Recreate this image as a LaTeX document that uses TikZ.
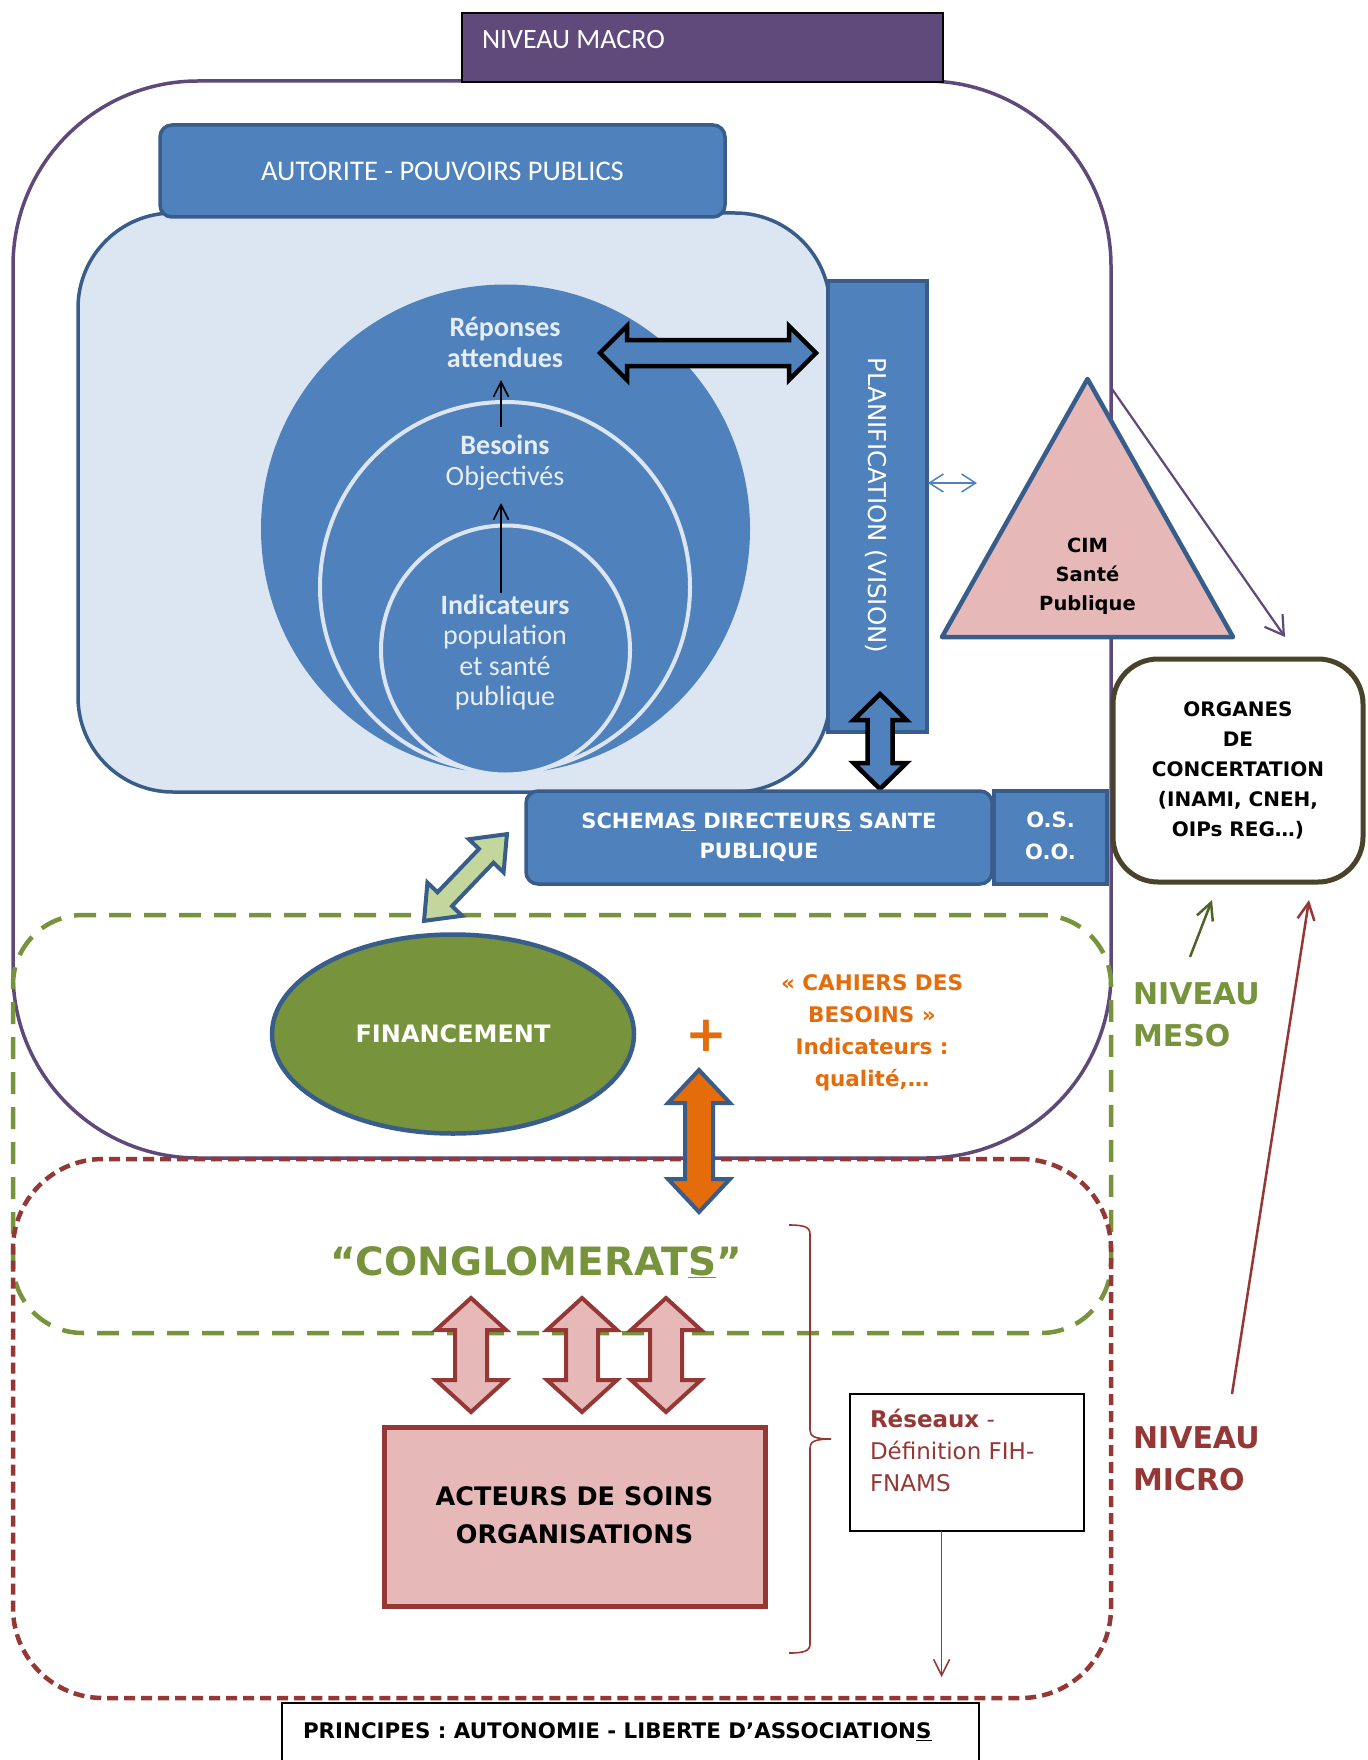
\documentclass[tikz,border=0pt]{standalone}
\usepackage{fontspec}
\setmainfont{DejaVu Sans}
\newfontfamily\calfont{Carlito}
\usetikzlibrary{arrows.meta,shapes.geometric}
\definecolor{mblue}{HTML}{4F81BD}
\definecolor{dblue}{HTML}{385D8A}
\definecolor{lblue}{HTML}{DCE6F2}
\definecolor{ltext}{HTML}{E6EDF6}
\definecolor{mpurple}{HTML}{604A7B}
\definecolor{bpurple}{HTML}{5F497A}
\definecolor{mgreen}{HTML}{77933C}
\definecolor{dgreen}{HTML}{4F6228}
\definecolor{lgreen}{HTML}{C3D69B}
\definecolor{morange}{HTML}{E46C0A}
\definecolor{mpink}{HTML}{E6B9B8}
\definecolor{dred}{HTML}{953735}
\definecolor{oliveb}{HTML}{494429}
\newcommand\fsz[2]{\fontsize{#1pt}{#2pt}\selectfont}
% block double arrow: center, angle, half length, half head width, half shaft width, head length, style
\newcommand\blockdbl[7]{%
  \begin{scope}[shift={(#1)},rotate=#2]
    \draw[#7] (-#3,0) -- ({-#3+#6},#4) -- ({-#3+#6},#5) -- ({#3-#6},#5) -- ({#3-#6},#4) -- (#3,0)
      -- ({#3-#6},-#4) -- ({#3-#6},-#5) -- ({-#3+#6},-#5) -- ({-#3+#6},-#4) -- cycle;
  \end{scope}}
\begin{document}
\begin{tikzpicture}[x=1pt,y=-1pt,
  plain/.style={inner sep=0pt, outer sep=0pt},
  bluebox/.style={plain, fill=mblue, draw=dblue, line width=3.5pt},
  ctext/.style={plain, text=ltext, font=\calfont\fsz{28}{30.5}, align=center},
  barb/.style={-{Straight Barb[length=#1pt,width=#1pt]}},
  barb/.default=16]
\path[use as bounding box, fill=white] (0,0) rectangle (1367,1760);

% ---------- containers ----------
\node[plain, draw=bpurple, line width=3.5pt, fill=white, rounded corners=185pt,
      minimum width=1098pt, minimum height=1077pt] (macro) at (562,619.5) {};
\node[plain, draw=mgreen, line width=4.5pt, dash pattern=on 22pt off 13pt, rounded corners=70pt,
      minimum width=1098pt, minimum height=418pt] (mesobox) at (562,1124) {};
\node[plain, draw=dred, line width=4.5pt, dash pattern=on 11pt off 6pt, rounded corners=90pt,
      minimum width=1098pt, minimum height=539pt] (microbox) at (562,1428.5) {};

\node[plain, fill=mpurple, draw=black, line width=2pt, minimum width=481pt, minimum height=69pt] (macrotag) at (702.5,47.5) {};
\node[plain, anchor=west, text=white, font=\calfont\fsz{28}{32}] (macrotxt) at (482,40) {NIVEAU MACRO};

% ---------- vision block ----------
\node[plain, fill=lblue, draw=dblue, line width=3.5pt, rounded corners=95pt,
      minimum width=752pt, minimum height=579pt] (vision) at (454,502.5) {};
\node[bluebox, rounded corners=12pt, minimum width=565pt, minimum height=92pt,
      text=white, font=\calfont\fsz{28.5}{32}] (autorite) at (442.5,171) {AUTORITE - POUVOIRS PUBLICS};

\node[plain, circle, fill=mblue, minimum size=489pt] (c1) at (505.5,529) {};
\node[plain, circle, fill=mblue, draw=lblue, line width=4pt, minimum size=370pt] (c2) at (505,587) {};
\node[plain, circle, fill=mblue, draw=lblue, line width=4pt, minimum size=249pt] (c3) at (505.5,650) {};

\node[ctext] (rep) at (505,346) {\strut\textbf{Réponses}\\\textbf{attendues}\strut};
\node[ctext] (bes) at (505,464) {\strut\textbf{Besoins}\\Objectivés\strut};
\node[ctext] (ind) at (505,654) {\strut\textbf{Indicateurs}\\population\\et santé\\publique\strut};

\coordinate (a1s) at (501,427); \coordinate (a1e) at (501,380);
\coordinate (a2s) at (501,593); \coordinate (a2e) at (501,503);
\draw[black, line width=1.6pt, barb=15] (a1s) -- (a1e);
\draw[black, line width=1.6pt, barb=15] (a2s) -- (a2e);

\node[bluebox, minimum width=99pt, minimum height=451pt] (planif) at (877.5,506.5) {};
\node[plain, rotate=-90, text=white, font=\fsz{24.5}{28}] (planiftxt) at (876,505.5) {PLANIFICATION (VISION)};

\coordinate (hA) at (708,353);
\blockdbl{hA}{0}{108}{27}{13}{27}{draw=black, fill=mblue, line width=4.5pt, line join=miter}

\coordinate (sbl) at (928,483); \coordinate (sbr) at (977,483);
\draw[mblue, line width=1.5pt, {Straight Barb[length=14pt,width=18pt]}-{Straight Barb[length=14pt,width=18pt]}] (sbl) -- (sbr);

% ---------- CIM ----------
\coordinate (tA) at (1087.5,379); \coordinate (tB) at (942,637); \coordinate (tC) at (1233,637);
\draw[fill=mpink, draw=dblue, line width=4.5pt, line join=round] (tA) -- (tB) -- (tC) -- cycle;
\node[plain, font=\bfseries\fsz{19.5}{29}, align=center] (cim) at (1087.5,576) {\strut CIM\\Santé\\Publique\strut};

\coordinate (pA) at (1112,389); \coordinate (pB) at (1285,637);
\draw[bpurple, line width=2.2pt, -{Straight Barb[length=18pt,width=22pt]}] (pA) -- (pB);

\node[plain, draw=oliveb, line width=5pt, fill=white, rounded corners=45pt, minimum width=250pt, minimum height=223pt,
      align=center, font=\bfseries\fsz{20}{30}] (organes) at (1238,770.5)
      {\strut ORGANES\\DE\\CONCERTATION\\(INAMI, CNEH,\\OIPs REG…)\strut};

\coordinate (vA) at (880,741.5);
\blockdbl{vA}{90}{47.5}{26.5}{12.5}{26}{draw=black, fill=mblue, line width=4.5pt, line join=miter}

\node[bluebox, rounded corners=12pt, minimum width=466pt, minimum height=93pt, text=white, align=center,
      font=\bfseries\fsz{21}{30}] (schemas) at (759,837.5)
      {\strut SCHEMA\underline{S} DIRECTEUR\underline{S} SANTE\\PUBLIQUE\strut};
\node[bluebox, minimum width=113pt, minimum height=93pt, text=white, align=center,
      font=\bfseries\fsz{21}{32}] (os) at (1050.5,837.5) {\strut O.S.\\O.O.\strut};

% ---------- meso ----------
\coordinate (gA) at (465.5,877.5);
\blockdbl{gA}{46.3}{60}{24}{10}{30}{draw=dblue, fill=lgreen, line width=4pt, line join=miter}

\node[plain, ellipse, fill=mgreen, draw=dblue, line width=4.5pt, minimum width=362pt, minimum height=199pt,
      text=white, font=\bfseries\fsz{24}{28}] (fin) at (453,1034) {FINANCEMENT};
\node[plain, text=morange, font=\bfseries\fsz{50}{50}] (plus) at (706,1036) {+};
\node[plain, text=morange, align=center, font=\bfseries\fsz{21.5}{32}] (cahiers) at (872,1032)
      {\strut«~CAHIERS DES\\BESOINS~»\\Indicateurs :\\qualité,…\strut};

\coordinate (oA) at (699,1141);
\blockdbl{oA}{90}{71}{31}{14}{33}{draw=dblue, fill=morange, line width=4pt, line join=miter}

\node[plain, anchor=west, text=mgreen, align=left, font=\bfseries\fsz{30}{42}] (meso) at (1133,1017) {\strut NIVEAU\\MESO\strut};
\coordinate (gs1) at (1190,957); \coordinate (gs2) at (1212,900);
\draw[dgreen, line width=2.5pt, barb=17] (gs1) -- (gs2);
\coordinate (rl1) at (1232,1394); \coordinate (rl2) at (1309,900);
\draw[dred, line width=2.5pt, barb=17] (rl1) -- (rl2);

% ---------- micro ----------
\node[plain, anchor=base, text=mgreen, font=\bfseries\fsz{39}{44}] (congl) at (536,1275) {“CONGLOMERAT\underline{S}”};

\coordinate (pk1) at (471,1355); \coordinate (pk2) at (582,1355); \coordinate (pk3) at (666,1355);
\blockdbl{pk1}{90}{57}{35}{16}{32}{draw=dred, fill=mpink, line width=4pt, line join=miter}
\blockdbl{pk2}{90}{57}{35}{16}{32}{draw=dred, fill=mpink, line width=4pt, line join=miter}
\blockdbl{pk3}{90}{57}{35}{16}{32}{draw=dred, fill=mpink, line width=4pt, line join=miter}

\node[plain, fill=mpink, draw=dred, line width=5pt, minimum width=381pt, minimum height=179pt, align=center,
      font=\bfseries\fsz{25.5}{38}] (acteurs) at (574.5,1516.5) {\strut ACTEURS DE SOINS\\ORGANISATIONS\strut};

% brace
\coordinate (br1) at (789,1225); \coordinate (brt) at (831,1439); \coordinate (br2) at (789,1653);
\draw[dred, line width=1.6pt]
  (br1) .. controls (804,1225) and (810,1227) .. (810,1234)
  -- (810,1430) .. controls (810,1436) and (814,1439) .. (brt)
  .. controls (814,1439) and (810,1442) .. (810,1448)
  -- (810,1644) .. controls (810,1651) and (804,1653) .. (br2);

\node[plain, fill=white, draw=black, line width=2.5pt, minimum width=234pt, minimum height=137pt] (reseaux) at (967,1462.5) {};
\node[plain, anchor=north west, text=dred, align=left, font=\fsz{23}{32}] (restxt) at (870,1405)
      {\strut\textbf{Réseaux} -\\Définition FIH-\\FNAMS\strut};
\coordinate (rd1) at (941.6,1531); \coordinate (rd2) at (941.6,1677);
\draw[dred, line width=1.5pt, barb=16] (rd1) -- (rd2);

\node[plain, anchor=west, text=dred, align=left, font=\bfseries\fsz{30}{42}] (micro) at (1133,1461) {\strut NIVEAU\\MICRO\strut};

\node[plain, fill=white, draw=black, line width=2pt, minimum width=697pt, minimum height=70pt] (princ) at (630.5,1738) {};
\node[plain, anchor=base west, font=\bfseries\fsz{21.4}{26}] (princtxt) at (303,1738)
      {PRINCIPES : AUTONOMIE - LIBERTE D’ASSOCIATION\underline{S}};
\end{tikzpicture}
\end{document}
